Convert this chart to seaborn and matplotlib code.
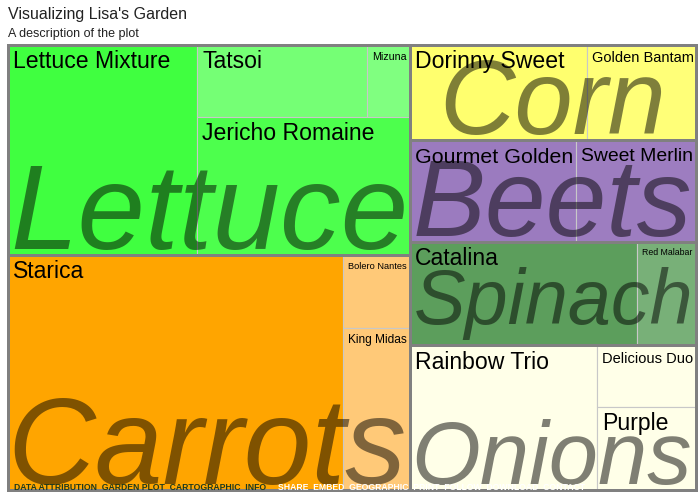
import numpy as np
import pandas as pd
import seaborn as sns
import matplotlib.pyplot as plt
from matplotlib.patches import Rectangle
from matplotlib.textpath import TextPath
from matplotlib.font_manager import FontProperties

# --- data (relative bed area per variety) ---
crops = ['Lettuce', 'Carrots', 'Corn', 'Beets', 'Spinach', 'Onions']

lettuce = ['Lettuce Mixture', 'Tatsoi', 'Mizuna', 'Jericho Romaine']
lettuce_vals = [39.7, 12.2, 3.1, 29.4]
carrots = ['Starica', 'Bolero Nantes', 'King Midas']
carrots_vals = [78.7, 4.9, 10.9]
corn = ['Dorinny Sweet', 'Golden Bantam']
corn_vals = [16.8, 10.4]
beets = ['Gourmet Golden', 'Sweet Merlin']
beets_vals = [16.9, 12.2]
spinach = ['Catalina', 'Red Malabar']
spinach_vals = [23.4, 6.1]
onions = ['Rainbow Trio', 'Delicious Duo', 'Purple']
onions_vals = [27.1, 6.1, 8.2]

lettuce_cols = ['#40ff40', '#75ff75', '#80ff80', '#4dff4d']
carrots_cols = ['#ffa500', '#ffc978', '#ffc978']
corn_cols = ['#ffff6e', '#ffff78']
beets_cols = ['#9b7bbf', '#9d7dc0']
spinach_cols = ['#5c9e5c', '#78b078']
onions_cols = ['#ffffe8', '#ffffe8', '#ffffe8']

varieties = [lettuce, carrots, corn, beets, spinach, onions]
values = [lettuce_vals, carrots_vals, corn_vals, beets_vals, spinach_vals, onions_vals]
colors = [lettuce_cols, carrots_cols, corn_cols, beets_cols, spinach_cols, onions_cols]

rows = []
for crop, names, vals, cols in zip(crops, varieties, values, colors):
    for n, v, c in zip(names, vals, cols):
        rows.append({'crop': crop, 'variety': n, 'value': v, 'color': c})
df = pd.DataFrame(rows)


def aspect(a, b):
    return max(a / b, b / a)


def lay_strip(strip, x, y, w, h, vertical):
    s = sum(strip)
    out = []
    if vertical:
        sw = s / h
        yy = y
        for a in strip:
            out.append((x, yy, sw, a / sw))
            yy += a / sw
        return out, (x + sw, y, w - sw, h)
    sh = s / w
    xx = x
    for a in strip:
        out.append((xx, y, a / sh, sh))
        xx += a / sh
    return out, (x, y + sh, w, h - sh)


def squarify(areas, x, y, w, h, vertical=True):
    # fill a strip until the last cell gets less square, then turn 90 degrees
    rects, strip = [], []
    for a in areas:
        if strip:
            side = h if vertical else w
            s_old = sum(strip)
            s_new = s_old + a
            old = aspect(s_old / side, strip[-1] / (s_old / side))
            new = aspect(s_new / side, strip[-1] / (s_new / side))
            if new > old:
                out, (x, y, w, h) = lay_strip(strip, x, y, w, h, vertical)
                rects += out
                vertical = not vertical
                strip = []
        strip.append(a)
    out, _ = lay_strip(strip, x, y, w, h, vertical)
    return rects + out


def two_columns(areas, x, y, w, h):
    # split the crops in two halves of about equal area, stack each half
    cum = np.cumsum(areas)
    k = int(np.argmin(np.abs(cum - cum[-1] / 2))) + 1
    wl = w * cum[k - 1] / cum[-1]
    rects = []
    for part, px, pw in [(areas[:k], x, wl), (areas[k:], x + wl, w - wl)]:
        yy = y
        for a in part:
            rects.append((px, yy, pw, a / pw))
            yy += a / pw
    return rects


sns.set_theme(style='white')
plt.rcParams['font.family'] = ['Liberation Sans', 'DejaVu Sans']

fig = plt.figure(figsize=(7, 5), dpi=100)
ax = fig.add_axes([0, 0, 1, 1])
ax.set_xlim(0, 700)
ax.set_ylim(500, 0)
ax.axis('off')

PT = 0.72  # px -> pt at 100 dpi
X0, Y0, W, H = 8, 45, 688, 445

crop_tot = df.groupby('crop', sort=False)['value'].sum()
areas = list(crop_tot.values / crop_tot.sum() * W * H)
group_rects = two_columns(areas, X0, Y0, W, H)

reg = FontProperties(family='Liberation Sans')
ital = FontProperties(family='Liberation Sans', style='italic')

for crop, (gx, gy, gw, gh) in zip(crops, group_rects):
    sub = df[df['crop'] == crop]
    sub_areas = list(sub['value'] / sub['value'].sum() * gw * gh)
    cells = squarify(sub_areas, gx, gy, gw, gh)
    for (cx, cy, cw, ch), (_, r) in zip(cells, sub.iterrows()):
        ax.add_patch(Rectangle((cx, cy), cw, ch, facecolor=r['color'],
                               edgecolor='#c8c8c8', lw=0.8, zorder=1))
        ext = TextPath((0, 0), r['variety'], size=100, prop=reg).get_extents()
        px = min(23, 100 * (cw - 9) / ext.x1)
        ax.text(cx + 5, cy + 7 + 0.716 * px, r['variety'], fontsize=px * PT,
                color='black', va='baseline', ha='left', zorder=4)

    # big faded crop name across the bottom of the group
    border = Rectangle((gx, gy), gw, gh, fill=False, edgecolor='#808080',
                       lw=3 * PT, zorder=5)
    ax.add_patch(border)
    ext = TextPath((0, 0), crop, size=100, prop=ital).get_extents()
    px = min(100 * (gw - 12) / ext.width, 1.1 * gh)
    k = px / 100
    left = gx + (gw - ext.width * k) / 2 - ext.x0 * k
    t = ax.text(left, gy + gh - 5 + ext.y0 * k, crop,
                fontsize=px * PT, fontstyle='italic', color='black',
                alpha=0.5, va='baseline', ha='left', zorder=3)
    t.set_clip_path(border)

ax.text(8, 18.5, "Visualizing Lisa's Garden", fontsize=11.5, color='#222222',
        va='baseline', ha='left')
ax.text(8, 37, 'A description of the plot', fontsize=9, color='#222222',
        va='baseline', ha='left')

# jumbled footer strip along the bottom edge
ax.text(14, 490, 'DATA ATTRIBUTION  GARDEN PLOT  CARTOGRAPHIC  INFO',
        fontsize=6.2, fontweight='bold', color='#1e3a1e', va='baseline',
        zorder=6)
ax.text(278, 490, 'SHARE  EMBED  GEOGRAPHIC  PRINT  FOLLOW  DOWNLOAD  CONTACT',
        fontsize=6.2, fontweight='bold', color='white', va='baseline', zorder=6)

fig.savefig('out.png', dpi=100)
